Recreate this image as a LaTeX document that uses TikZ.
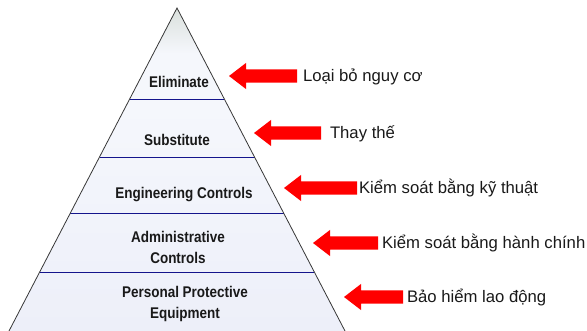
\documentclass[tikz,border=0pt]{standalone}
\usepackage{fontspec}
\setmainfont{Liberation Sans}
\newfontfamily\levelfont[FakeStretch=0.87]{Liberation Sans}
\usetikzlibrary{positioning,calc,shapes.arrows}
\definecolor{inkdark}{RGB}{25,25,25}
\definecolor{edgegray}{RGB}{55,55,55}
\definecolor{bandline}{RGB}{20,20,140}
\definecolor{fillapex}{RGB}{218,224,220}
\definecolor{fillmid}{RGB}{245,247,252}
\definecolor{fillbase}{RGB}{237,239,249}
\definecolor{pointred}{RGB}{255,0,0}
\pgfdeclareverticalshading{pyramidfill}{100bp}{color(0bp)=(fillbase); color(25bp)=(fillbase);
    color(60bp)=(fillmid); color(68bp)=(fillmid); color(75bp)=(fillapex); color(100bp)=(fillapex)}

\begin{document}
\begin{tikzpicture}[x=1pt,y=-1pt]
    \tikzstyle{every node}=[inner sep=0,outer sep=0]
    \tikzstyle{level}=[font=\levelfont\bfseries\fontsize{15.5}{21}\selectfont,text=inkdark,align=center]
    \tikzstyle{pointer}=[single arrow,shape border rotate=180,fill=pointred,draw=none,
        inner xsep=0,inner ysep=6.5,single arrow head extend=6.5,single arrow tip angle=75,anchor=tip]
    \tikzstyle{note}=[font=\fontsize{16.7}{20}\selectfont,text=inkdark,anchor=base west]
    \tikzstyle{band}=[draw=bandline,line width=0.9]
    {
        \useasboundingbox (0,0) rectangle (587,331);

        % pyramid
        \coordinate (apex) at (177,8);
        \coordinate (bl) at (9,331);
        \coordinate (br) at (345,331);
        \shade[shading=pyramidfill] (apex) -- (br) -- (bl) -- cycle;
        \foreach \t in {0.2817,0.4613,0.6347,0.8173}
            \draw[band] ($(apex)!\t!(bl)$) -- ($(apex)!\t!(br)$);
        \draw[edgegray,line width=0.8] (bl) -- (apex) -- (br);

        % levels
        \node[level] (elim) at (179,82) {Eliminate};
        \node[level] (subst) at (177,140) {Substitute};
        \node[level] (eng) at (184,195) {Engineering Controls};
        \node[level] (admin) at (178,247) {Administrative\\Controls};
        \node[level] (ppe) at (185,304) {Personal Protective\\Equipment};

        % arrows
        \node[pointer,minimum height=68] (a1) at (229,76) {};
        \node[pointer,minimum height=67] (a2) at (254,133) {};
        \node[pointer,minimum height=73] (a3) at (284,188) {};
        \node[pointer,minimum height=65] (a4) at (313,243) {};
        \node[pointer,minimum height=59] (a5) at (344,297) {};

        \node[note] (t1) at (303,82) {Loại bỏ nguy cơ};
        \node[note] (t2) at (330,139) {Thay thế};
        \node[note] (t3) at (359,194) {Kiểm soát bằng kỹ thuật};
        \node[note] (t4) at (382,249) {Kiểm soát bằng hành chính};
        \node[note] (t5) at (407,303) {Bảo hiểm lao động};
    }
\end{tikzpicture}
\end{document}
